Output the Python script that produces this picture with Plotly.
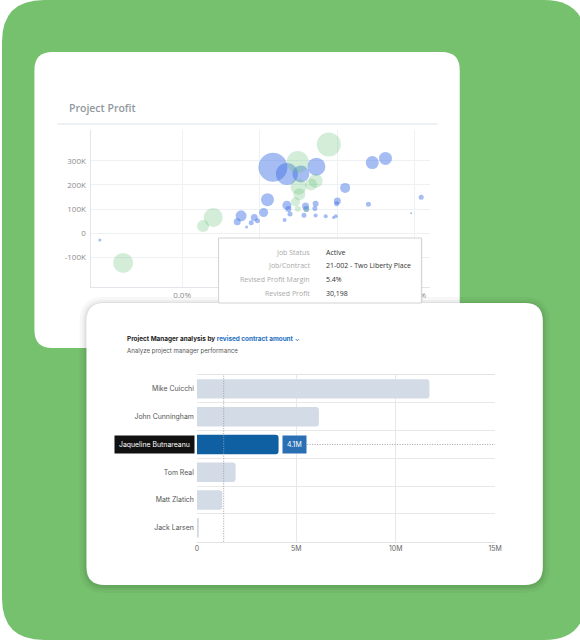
import plotly.graph_objects as go

W, H = 580, 640          # reference frame (pixels)
FIG_W = 590              # css width of the figure; the capture squeezes it slightly
SX, OX = 0.984, 2.6      # measured horizontal squeeze of the capture

# --- Project Profit (bubble chart) ---
blue_margin = [-10.6, 7.1, 7.6, 8.3, 8.9, 9.3, 9.7, 10.5, 11.0, 11.7, 13.5, 15.3, 17.3,
               13.5, 13.7, 13.9, 13.2, 15.9, 16.0, 15.7, 17.1, 17.2, 17.2, 18.5, 19.5,
               19.8, 20.0, 19.9, 21.0, 24.0, 24.5, 26.2, 29.5, 30.8]
blue_profit = [-28, 48, 72, 26, 43, 65, 52, 86, 139, 274, 246, 246, 276,
               116, 100, 80, 55, 113, 100, 75, 102, 122, 73, 70, 65,
               70, 134, 122, 188, 120, 293, 310, 83, 149]
blue_size = [3, 7, 11, 3, 5, 7, 5, 9, 13, 29, 22, 17, 18,
             9, 6, 5, 4, 7, 6, 5, 5, 6, 4, 4, 3,
             4, 7, 5, 10, 5, 13, 13, 2, 5]

green_margin = [-7.6, 2.7, 4.0, 14.9, 18.9, 17.2, 16.6, 15.0, 15.1, 14.6, 14.9, 16.0]
green_profit = [-123, 30, 65, 295, 368, 217, 202, 193, 162, 130, 101, 98]
green_size = [20, 12, 19, 22, 24, 14, 12, 16, 12, 9, 6, 5]

margin_ticks = [0, 10, 20, 30]
margin_labels = ["0.0%", "", "", "30.0%"]   # 10% / 20% sit under the tooltip
profit_ticks = [-100, 0, 100, 200, 300]
profit_labels = ["-100K", "0", "100K", "200K", "300K"]

tooltip_labels = ["Job Status", "Job/Contract", "Revised Profit Margin", "Revised Profit"]
tooltip_values = ["Active", "21-002 - Two Liberty Place", "5.4%", "30,198"]

# --- Project Manager analysis (bar chart) ---
managers = ["Mike Cuicchi", "John Cunningham", "Jaqueline Butnareanu",
            "Tom Real", "Matt Zlatich", "Jack Larsen"]
contract_amount = [11.7e6, 6.14e6, 4.11e6, 1.95e6, 1.28e6, 0.1e6]
highlight = "Jaqueline Butnareanu"
highlight_label = "4.1M"
cursor_amount = 1.35e6
amount_ticks = [0, 5e6, 10e6, 15e6]
amount_labels = ["0", "5M", "10M", "15M"]


def px(x):
    return ((x - OX) / SX) / FIG_W


def py(y):
    return 1 - y / H


def rrect(x0, y0, x1, y1, r):
    # rounded rectangle path in paper coords from pixel values
    pts = [
        ("M", [(x0 + r, y0)]), ("L", [(x1 - r, y0)]), ("Q", [(x1, y0), (x1, y0 + r)]),
        ("L", [(x1, y1 - r)]), ("Q", [(x1, y1), (x1 - r, y1)]),
        ("L", [(x0 + r, y1)]), ("Q", [(x0, y1), (x0, y1 - r)]),
        ("L", [(x0, y0 + r)]), ("Q", [(x0, y0), (x0 + r, y0)]),
    ]
    s = ""
    for cmd, coords in pts:
        s += cmd + " " + " ".join(f"{px(a):.5f},{py(b):.5f}" for a, b in coords) + " "
    return s + "Z"


fig = go.Figure()

fig.add_trace(go.Scatter(
    x=blue_margin, y=blue_profit, mode="markers",
    marker=dict(size=blue_size, sizemode="diameter", color="rgba(62,112,228,0.66)", line=dict(width=0)),
    hoverinfo="skip"))
fig.add_trace(go.Scatter(
    x=green_margin, y=green_profit, mode="markers",
    marker=dict(size=green_size, sizemode="diameter", color="rgba(96,190,118,0.4)", line=dict(width=0)),
    hoverinfo="skip"))

fig.add_trace(go.Bar(
    x=contract_amount, y=managers, orientation="h", width=0.7,
    marker=dict(color=["#0f5fa3" if m == highlight else "#d3dbe6" for m in managers],
                cornerradius=3, line=dict(width=0)),
    xaxis="x2", yaxis="y2", hoverinfo="skip"))

shapes = []
# green background
shapes.append(dict(type="path", xref="paper", yref="paper", path=rrect(OX, 0, W + 6, H, 42),
                   fillcolor="#76c16e", line=dict(width=0), layer="below"))
# card 1
shapes.append(dict(type="path", xref="paper", yref="paper", path=rrect(35, 52, 460, 348, 18),
                   fillcolor="white", line=dict(width=0), layer="below"))
# card 2 shadow + card
for i, a in [(7, 0.03), (4, 0.04), (2, 0.05)]:
    shapes.append(dict(type="path", xref="paper", yref="paper",
                       path=rrect(87 - i, 303 - i + 1, 543 + i, 585 + i + 1, 18 + i),
                       fillcolor=f"rgba(0,0,0,{a})", line=dict(width=0), layer="below"))
shapes.append(dict(type="path", xref="paper", yref="paper", path=rrect(87, 303, 543, 585, 18),
                   fillcolor="white", line=dict(width=0), layer="below"))
# line under "Project Profit"
shapes.append(dict(type="line", xref="paper", yref="paper", x0=px(58), x1=px(438), y0=py(124), y1=py(124),
                   line=dict(color="#e6ecf2", width=1.5), layer="below"))
# tooltip box
shapes.append(dict(type="rect", xref="paper", yref="paper", x0=px(220), x1=px(423), y0=py(239), y1=py(303),
                   fillcolor="rgba(0,0,0,0.05)", line=dict(width=0), layer="above"))
shapes.append(dict(type="rect", xref="paper", yref="paper", x0=px(219), x1=px(421.7), y0=py(238), y1=py(303),
                   fillcolor="white", line=dict(color="#d2d2d2", width=1), layer="above"))
# bar chart crosshair lines
shapes.append(dict(type="line", xref="x2", yref="y2 domain", x0=cursor_amount, x1=cursor_amount, y0=0, y1=1,
                   line=dict(color="#a0a0a0", width=1, dash="1px,1.5px")))
shapes.append(dict(type="line", xref="paper", yref="y2", x0=px(305), x1=px(495.3),
                   y0=managers.index(highlight), y1=managers.index(highlight),
                   line=dict(color="#a0a0a0", width=1, dash="1px,1.5px")))

annotations = []
annotations.append(dict(xref="paper", yref="paper", x=px(68), y=py(108), xanchor="left", yanchor="middle",
                        text="Project Profit", showarrow=False,
                        font=dict(family="Open Sans", size=10.5, color="#8f989e", weight=600)))
for i, (lab, val) in enumerate(zip(tooltip_labels, tooltip_values)):
    yy = py(252 + i * 13.7)
    annotations.append(dict(xref="paper", yref="paper", x=px(312), y=yy, xanchor="right", yanchor="middle",
                            text=lab, showarrow=False, font=dict(family="Open Sans", size=7, color="#a9a9a9")))
    annotations.append(dict(xref="paper", yref="paper", x=px(324), y=yy, xanchor="left", yanchor="middle",
                            text=val, showarrow=False, font=dict(family="Open Sans", size=7, color="#333333")))

annotations.append(dict(
    xref="paper", yref="paper", x=px(126), y=py(339), xanchor="left", yanchor="middle", showarrow=False,
    text="<b>Project Manager analysis by <span style='color:#1f6fbf'>revised contract amount</span></b>"
         "<span style='color:#1f6fbf'> ⌄</span>",
    font=dict(family="Inter", size=6.4, color="#222222")))
annotations.append(dict(
    xref="paper", yref="paper", x=px(126), y=py(351), xanchor="left", yanchor="middle", showarrow=False,
    text="Analyze project manager performance", font=dict(family="Inter", size=6.1, color="#555555")))
annotations.append(dict(
    xref="paper", yref="y2", x=px(195.5), y=highlight, xanchor="right", yanchor="middle", showarrow=False,
    text=highlight, bgcolor="#111111", borderpad=4,
    font=dict(family="Inter", size=6.9, color="white")))
annotations.append(dict(
    xref="x2", yref="y2", x=contract_amount[managers.index(highlight)], y=highlight,
    xanchor="left", yanchor="middle", xshift=3, showarrow=False,
    text=highlight_label, bgcolor="#2a6fb3", borderpad=4,
    font=dict(family="Inter", size=6.9, color="white")))

fig.update_layout(
    width=FIG_W, height=H,
    margin=dict(l=0, r=0, t=0, b=0),
    paper_bgcolor="white", plot_bgcolor="rgba(0,0,0,0)",
    showlegend=False,
    shapes=shapes, annotations=annotations,
    xaxis=dict(domain=[px(92), px(430)], range=[-11.68, 31.9],
               tickvals=margin_ticks, ticktext=margin_labels,
               showgrid=True, gridcolor="#eef1f4", zeroline=False,
               showline=True, linecolor="#e2e5e9", ticks="",
               tickfont=dict(family="Open Sans", size=8, color="#8c8c8c")),
    yaxis=dict(domain=[py(287), py(130)], range=[-223, 428],
               tickvals=profit_ticks, ticktext=profit_labels,
               showgrid=True, gridcolor="#eef1f4", zeroline=False,
               showline=True, linecolor="#e2e5e9", ticks="", ticklabelstandoff=3,
               tickfont=dict(family="Open Sans", size=8, color="#8c8c8c")),
    xaxis2=dict(anchor="y2", domain=[px(197.3), px(495.3)], range=[0, 15e6],
                tickvals=amount_ticks, ticktext=amount_labels,
                showgrid=True, gridcolor="#e8e8e8", zeroline=False,
                showline=True, mirror=True, linecolor="#e3e3e3", ticks="",
                tickfont=dict(family="Inter", size=6.9, color="#666666")),
    yaxis2=dict(anchor="x2", domain=[py(541.7), py(375)], type="category",
                categoryorder="array", categoryarray=managers, autorange="reversed",
                tickvals=managers, ticktext=["" if m == highlight else m for m in managers],
                tickson="boundaries", showgrid=True, gridcolor="#e8e8e8",
                showline=False, zeroline=False, ticks="", ticklabelstandoff=2,
                tickfont=dict(family="Inter", size=6.9, color="#555555")),
)

fig.write_html("out.html",
               config=dict(displayModeBar=False, responsive=False),
               post_script="document.body.style.margin='0';"
                           "document.body.style.overflow='hidden';"
                           "document.documentElement.style.overflow='hidden';")
